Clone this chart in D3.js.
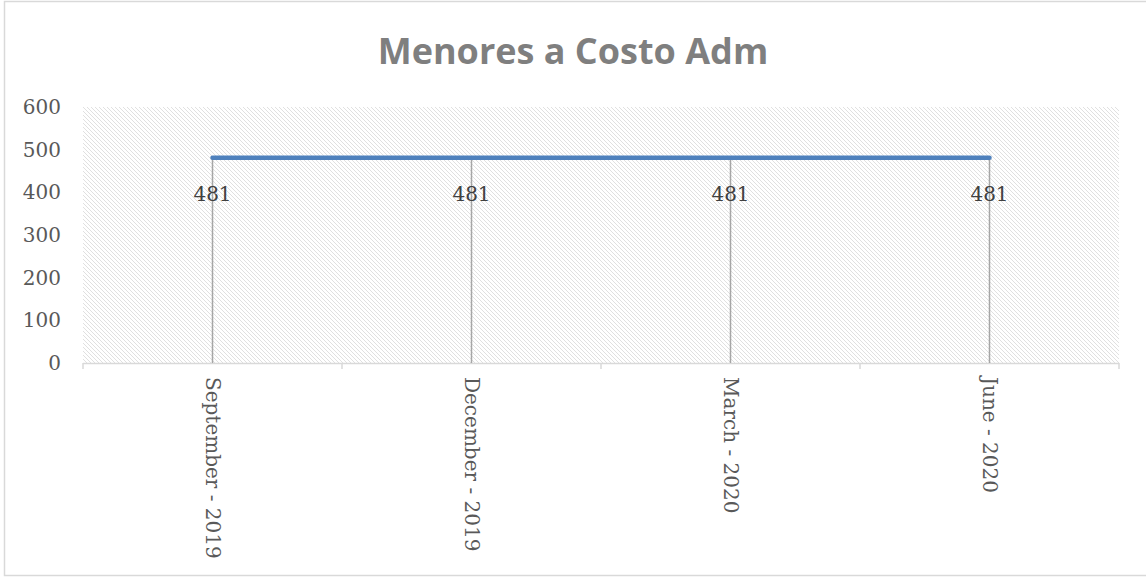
<!DOCTYPE html>
<html>
<head>
<meta charset="utf-8">
<script src="https://cdn.jsdelivr.net/npm/d3@7"></script>
<style>
  body { margin: 0; background: #fff; }
  svg { display: block; }
</style>
</head>
<body>
<script>
var width = 1146,
    height = 577;

// data
var categories = ["September - 2019", "December - 2019", "March - 2020", "June - 2020"];
var values = [481, 481, 481, 481];
var yTicks = [0, 100, 200, 300, 400, 500, 600];
var title = "Menores a Costo Adm";

var margin = {top: 107, right: 27, bottom: 214, left: 83};

var svg = d3.select("body").append("svg")
    .attr("width", width)
    .attr("height", height);

// hatch pattern for plot area
var defs = svg.append("defs");
var pat = defs.append("pattern")
    .attr("id", "hatch")
    .attr("patternUnits", "userSpaceOnUse")
    .attr("width", 4)
    .attr("height", 4);
pat.append("path")
    .attr("d", "M-1,-1 L5,5 M-1,3 L1,5 M3,-1 L5,1")
    .attr("stroke", "#dcdcdc")
    .attr("stroke-width", 0.9);

// chart border
svg.append("rect")
    .attr("x", 4.5)
    .attr("y", 1.5)
    .attr("width", 1150)
    .attr("height", 574)
    .attr("fill", "#fff")
    .attr("stroke", "#d9d9d9")
    .attr("stroke-width", 1.5);

var x = d3.scaleBand()
    .domain(categories)
    .range([margin.left, width - margin.right])
    .padding(0);

var y = d3.scaleLinear()
    .domain([0, 600])
    .range([height - margin.bottom, margin.top]);

svg.append("rect")
    .attr("x", x.range()[0])
    .attr("y", y(600))
    .attr("width", x.range()[1] - x.range()[0])
    .attr("height", y(0) - y(600))
    .attr("fill", "url(#hatch)");

// title
svg.append("text")
    .attr("x", width / 2)
    .attr("y", 64)
    .attr("text-anchor", "middle")
    .attr("font-family", "'Open Sans', sans-serif")
    .attr("font-weight", "bold")
    .attr("font-size", 36)
    .attr("fill", "#7f7f7f")
    .text(title);

// y axis labels
svg.append("g")
    .selectAll("text")
    .data(yTicks)
    .enter().append("text")
    .attr("x", 61)
    .attr("y", function(d) { return y(d); })
    .attr("dy", "0.35em")
    .attr("text-anchor", "end")
    .attr("font-family", "'DejaVu Serif', serif")
    .attr("font-size", 20)
    .attr("fill", "#595959")
    .text(function(d) { return d; });

// x axis line and tick marks between categories
var xAxis = svg.append("g");
xAxis.append("line")
    .attr("x1", x.range()[0])
    .attr("x2", x.range()[1])
    .attr("y1", y(0) + 0.5)
    .attr("y2", y(0) + 0.5)
    .attr("stroke", "#d9d9d9")
    .attr("stroke-width", 1.5);

var tickPos = categories.map(function(c) { return x(c); }).concat([x.range()[1]]);
xAxis.selectAll("line.tick")
    .data(tickPos)
    .enter().append("line")
    .attr("class", "tick")
    .attr("x1", function(d) { return d; })
    .attr("x2", function(d) { return d; })
    .attr("y1", y(0))
    .attr("y2", y(0) + 6)
    .attr("stroke", "#d9d9d9")
    .attr("stroke-width", 1.5);

// x labels rotated
xAxis.selectAll("text")
    .data(categories)
    .enter().append("text")
    .attr("transform", function(d) {
      return "translate(" + (x(d) + x.bandwidth() / 2) + "," + (y(0) + 14) + ")rotate(90)";
    })
    .attr("dy", "0.35em")
    .attr("text-anchor", "start")
    .attr("font-family", "'DejaVu Serif', serif")
    .attr("font-size", 20)
    .attr("fill", "#595959")
    .text(function(d) { return d; });

var cx = function(i) { return x(categories[i]) + x.bandwidth() / 2; };

// drop lines
svg.append("g")
    .selectAll("line")
    .data(values)
    .enter().append("line")
    .attr("x1", function(d, i) { return cx(i); })
    .attr("x2", function(d, i) { return cx(i); })
    .attr("y1", function(d) { return y(d); })
    .attr("y2", y(0))
    .attr("stroke", "#a6a6a6")
    .attr("stroke-width", 1.5);

// series line
var line = d3.line()
    .x(function(d, i) { return cx(i); })
    .y(function(d) { return y(d); });

svg.append("path")
    .datum(values)
    .attr("d", line)
    .attr("fill", "none")
    .attr("stroke", "#4f81bd")
    .attr("stroke-width", 4.5)
    .attr("stroke-linecap", "round");

// data labels
svg.append("g")
    .selectAll("text")
    .data(values)
    .enter().append("text")
    .attr("x", function(d, i) { return cx(i); })
    .attr("y", function(d) { return y(d) + 36; })
    .attr("dy", "0.35em")
    .attr("text-anchor", "middle")
    .attr("font-family", "'DejaVu Serif', serif")
    .attr("font-size", 20)
    .attr("fill", "#404040")
    .text(function(d) { return d; });
</script>
</body>
</html>
